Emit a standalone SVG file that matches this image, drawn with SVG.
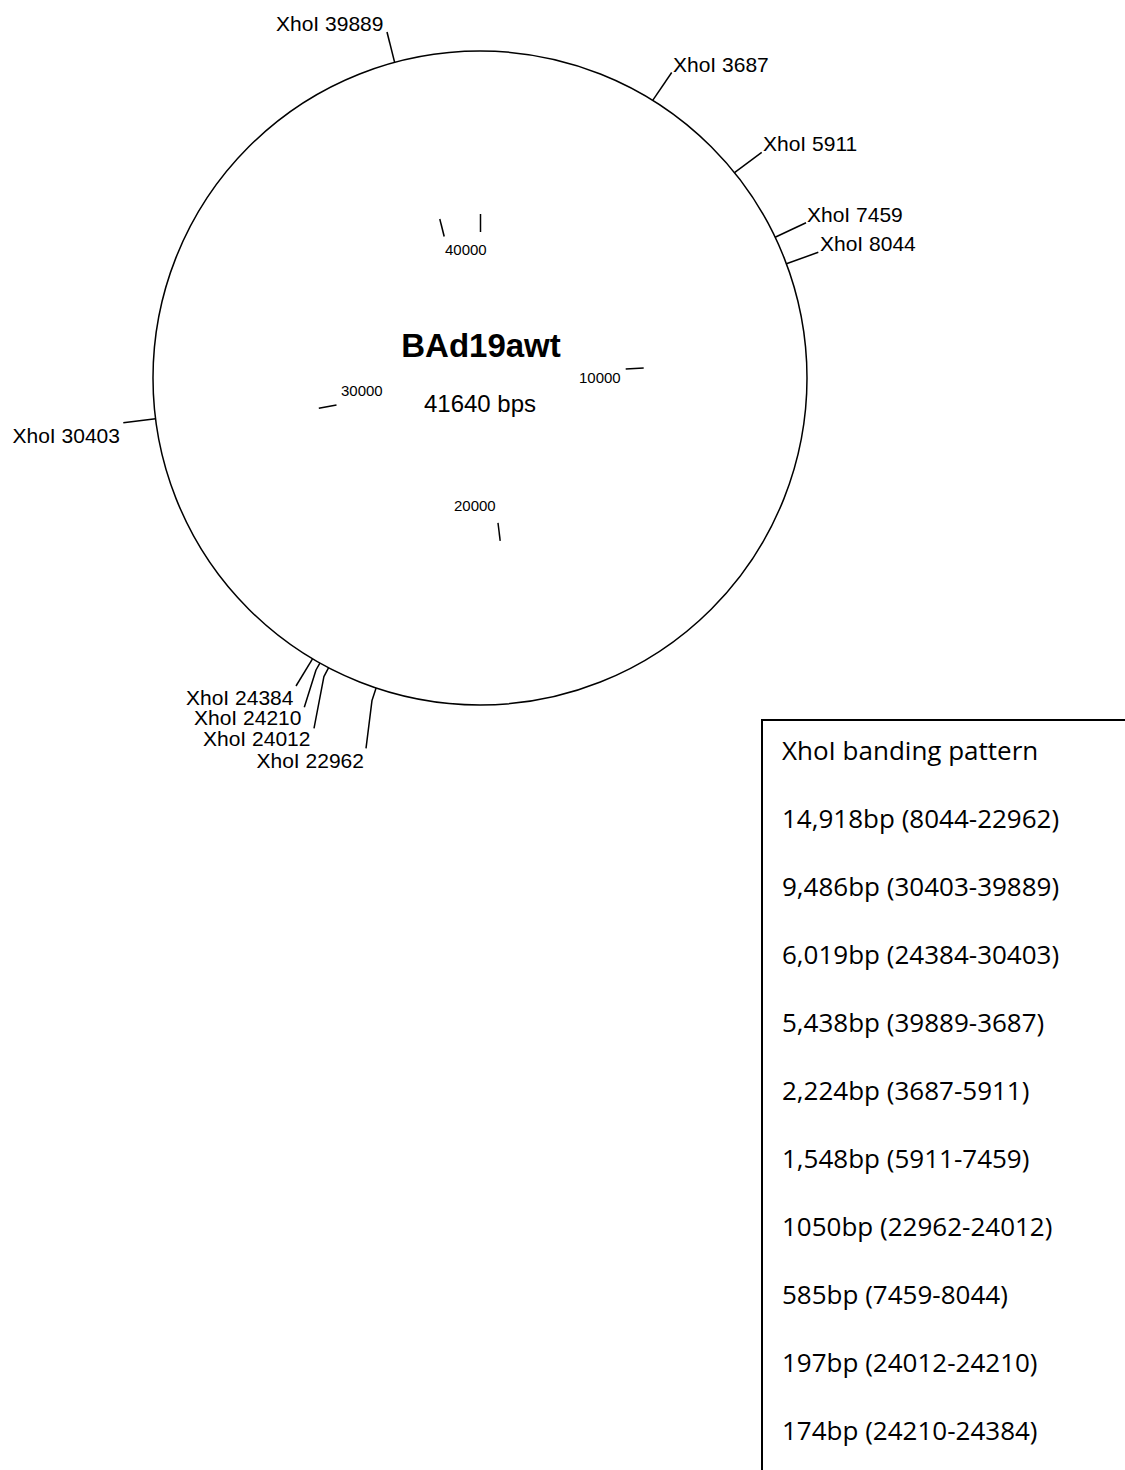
<svg xmlns="http://www.w3.org/2000/svg" width="1125" height="1470" viewBox="0 0 1125 1470">
  <style>
    .bg { fill: #ffffff; }
    .ring { fill: none; stroke: #000; stroke-width: 1.5; }
    .tick { fill: none; stroke: #000; stroke-width: 1.5; stroke-linecap: butt; stroke-linejoin: round; }
    .site { font-family: "Liberation Sans", Arial, sans-serif; font-size: 21px; fill: #000; }
    .scale { font-family: "Liberation Sans", Arial, sans-serif; font-size: 15px; fill: #000; }
    .title { font-family: "Liberation Sans", Arial, sans-serif; font-size: 33px; font-weight: bold; fill: #000; text-anchor: middle; }
    .size { font-family: "Liberation Sans", Arial, sans-serif; font-size: 24px; fill: #000; text-anchor: middle; }
    .legend-box { fill: none; stroke: #000; stroke-width: 2; }
    .legend { font-family: "Open Sans", "Liberation Sans", sans-serif; font-size: 26px; fill: #000; }
  </style>

  <rect class="bg" x="0" y="0" width="1125" height="1470"/>

  <!-- plasmid backbone with name and length -->
  <g id="plasmid">
    <circle class="ring" cx="480" cy="378" r="327"/>
    <text class="title" x="481" y="357">BAd19awt</text>
    <text class="size" x="480" y="412">41640 bps</text>
  </g>

  <!-- inner position scale: 0, 10000, 20000, 30000, 40000 -->
  <g id="scale">
    <line class="tick" x1="480.5" y1="214" x2="480.5" y2="232"/>
    <line class="tick" x1="439.8" y1="219" x2="444.2" y2="236.5"/>
    <text class="scale" x="445" y="255">40000</text>
    <line class="tick" x1="625.7" y1="369" x2="643.7" y2="367.9"/>
    <text class="scale" x="579" y="383">10000</text>
    <line class="tick" x1="498" y1="522.9" x2="500.2" y2="540.8"/>
    <text class="scale" x="454" y="511">20000</text>
    <line class="tick" x1="336.5" y1="404.9" x2="318.8" y2="408.3"/>
    <text class="scale" x="341" y="396">30000</text>
  </g>

  <!-- leader lines from each XhoI site to its label -->
  <g id="connectors">
    <polyline class="tick" points="394.6,62.3 387,32"/>
    <polyline class="tick" points="652.7,100.3 671.7,72.5"/>
    <polyline class="tick" points="734.5,172.6 761.7,152.3"/>
    <polyline class="tick" points="775.1,237.2 806,222.7"/>
    <polyline class="tick" points="786.4,263.7 818.3,252.3"/>
    <polyline class="tick" points="155.6,418.7 123.3,422.7"/>
    <polyline class="tick" points="312.5,658.9 296,686"/>
    <polyline class="tick" points="319.9,663.1 316,670 304.3,707.3"/>
    <polyline class="tick" points="328.5,667.8 323.9,676.7 314,728.3"/>
    <polyline class="tick" points="376.1,688.1 372,700.4 366,748.3"/>
  </g>

  <!-- XhoI site labels -->
  <g id="site-39889"><text class="site" x="276" y="30.5">XhoI 39889</text></g>
  <g id="site-3687"><text class="site" x="673" y="72">XhoI 3687</text></g>
  <g id="site-5911"><text class="site" x="763" y="151">XhoI 5911</text></g>
  <g id="site-7459"><text class="site" x="807" y="222">XhoI 7459</text></g>
  <g id="site-8044"><text class="site" x="820" y="251">XhoI 8044</text></g>
  <g id="site-30403"><text class="site" x="12.5" y="442.5">XhoI 30403</text></g>
  <g id="site-24384"><text class="site" x="186" y="705">XhoI 24384</text></g>
  <g id="site-24210"><text class="site" x="194" y="725">XhoI 24210</text></g>
  <g id="site-24012"><text class="site" x="203" y="746">XhoI 24012</text></g>
  <g id="site-22962"><text class="site" x="256.5" y="768">XhoI 22962</text></g>

  <!-- fragment size table -->
  <g id="legend">
    <rect class="legend-box" x="762" y="720" width="420" height="800"/>
    <text class="legend" x="782" y="760">XhoI banding pattern</text>
    <text class="legend" x="782" y="828">14,918bp (8044-22962)</text>
    <text class="legend" x="782" y="896">9,486bp (30403-39889)</text>
    <text class="legend" x="782" y="964">6,019bp (24384-30403)</text>
    <text class="legend" x="782" y="1032">5,438bp (39889-3687)</text>
    <text class="legend" x="782" y="1100">2,224bp (3687-5911)</text>
    <text class="legend" x="782" y="1168">1,548bp (5911-7459)</text>
    <text class="legend" x="782" y="1236">1050bp (22962-24012)</text>
    <text class="legend" x="782" y="1304">585bp (7459-8044)</text>
    <text class="legend" x="782" y="1372">197bp (24012-24210)</text>
    <text class="legend" x="782" y="1440">174bp (24210-24384)</text>
  </g>
</svg>
